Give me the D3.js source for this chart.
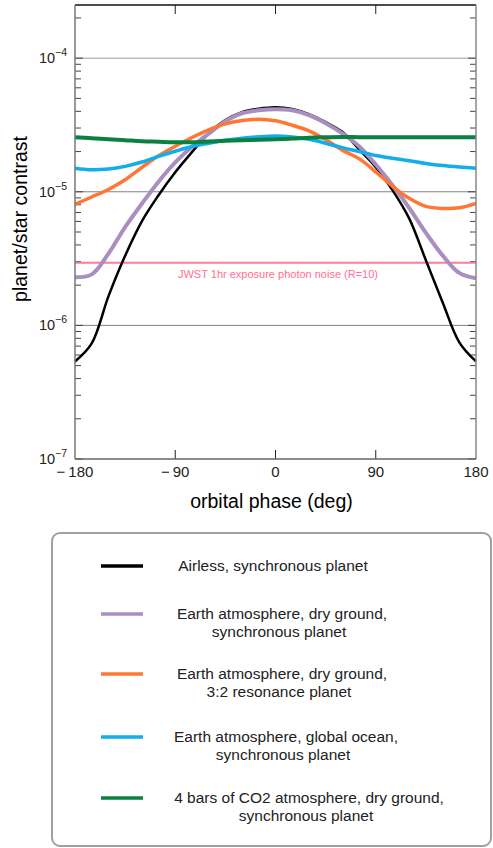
<!DOCTYPE html>
<html>
<head>
<meta charset="utf-8">
<script src="https://cdn.jsdelivr.net/npm/d3@7"></script>
<style>
  body { margin: 0; background: #fff; }
  svg { display: block; font-family: "Liberation Sans", Arial, sans-serif; }
</style>
</head>
<body>
<svg id="chart" width="493" height="848"></svg>
<script>
// orbital phase samples (deg)
const phases = [-180, -165, -150, -135, -120, -105, -90, -75, -60, -45, -30, -15, 0,
  15, 30, 45, 60, 75, 90, 105, 120, 135, 150, 165, 180];

const airless = [5.37e-7, 7.33e-7, 1.65e-6, 3.32e-6, 6.01e-6, 9.42e-6, 1.40e-5, 1.98e-5, 2.74e-5, 3.44e-5, 3.94e-5, 4.19e-5, 4.30e-5,
  4.17e-5, 3.81e-5, 3.32e-5, 2.81e-5, 2.08e-5, 1.53e-5, 1.03e-5, 6.32e-6, 3.07e-6, 1.49e-6, 7.47e-7, 5.37e-7];
const earthDry = [2.29e-6, 2.41e-6, 3.44e-6, 5.44e-6, 8.13e-6, 1.19e-5, 1.66e-5, 2.17e-5, 2.72e-5, 3.37e-5, 3.87e-5, 4.07e-5, 4.15e-5,
  4.07e-5, 3.74e-5, 3.26e-5, 2.74e-5, 2.19e-5, 1.60e-5, 1.12e-5, 7.59e-6, 4.93e-6, 3.34e-6, 2.47e-6, 2.25e-6];
const earthDry32 = [8.05e-6, 9.14e-6, 1.04e-5, 1.23e-5, 1.52e-5, 1.86e-5, 2.19e-5, 2.55e-5, 2.91e-5, 3.22e-5, 3.41e-5, 3.49e-5, 3.40e-5,
  3.15e-5, 2.86e-5, 2.46e-5, 2.05e-5, 1.77e-5, 1.41e-5, 1.10e-5, 8.93e-6, 7.78e-6, 7.51e-6, 7.59e-6, 8.20e-6];
const earthOcean = [1.50e-5, 1.46e-5, 1.48e-5, 1.55e-5, 1.67e-5, 1.84e-5, 2.01e-5, 2.18e-5, 2.31e-5, 2.43e-5, 2.52e-5, 2.58e-5, 2.61e-5,
  2.57e-5, 2.47e-5, 2.31e-5, 2.14e-5, 2.00e-5, 1.87e-5, 1.78e-5, 1.71e-5, 1.63e-5, 1.57e-5, 1.53e-5, 1.50e-5];
const co2Dry = [2.56e-5, 2.52e-5, 2.47e-5, 2.43e-5, 2.39e-5, 2.37e-5, 2.35e-5, 2.35e-5, 2.38e-5, 2.41e-5, 2.43e-5, 2.45e-5, 2.47e-5,
  2.50e-5, 2.54e-5, 2.56e-5, 2.57e-5, 2.56e-5, 2.56e-5, 2.56e-5, 2.56e-5, 2.56e-5, 2.56e-5, 2.56e-5, 2.56e-5];

const noiseLevel = 2.94e-6;
const noiseLabel = "JWST 1hr exposure photon noise (R=10)";

const xTicks = [-180, -90, 0, 90, 180];
const yDecades = [-7, -6, -5, -4];

const seriesNames = [
  ["Airless, synchronous planet"],
  ["Earth atmosphere, dry ground,", "synchronous planet"],
  ["Earth atmosphere, dry ground,", "3:2 resonance planet"],
  ["Earth atmosphere, global ocean,", "synchronous planet"],
  ["4 bars of CO2 atmosphere, dry ground,", "synchronous planet"]
];
const seriesValues = [airless, earthDry, earthDry32, earthOcean, co2Dry];
const seriesColors = ["#000000", "#a88fc0", "#ff7733", "#12aeec", "#0b8043"];
const seriesWidths = [2.5, 4, 3.5, 3.5, 4];

const svg = d3.select("#chart");
const plotL = 75, plotR = 476, plotT = 5, plotB = 459;

const x = d3.scaleLinear().domain([-180, 180]).range([plotL, plotR]);
const y = d3.scaleLog().domain([1e-7, 2.5e-4]).range([plotB, plotT]);

const g = svg.append("g");

// decade gridlines
yDecades.forEach(e => {
  if (e === -7) return;
  g.append("line")
    .attr("x1", plotL).attr("x2", plotR)
    .attr("y1", y(Math.pow(10, e))).attr("y2", y(Math.pow(10, e)))
    .attr("stroke", e === -4 ? "#bbbbbb" : "#808080")
    .attr("stroke-width", e === -4 ? 1.5 : 1);
});

// minor y ticks, both sides
const minors = [];
for (let e = -7; e <= -4; e++) {
  for (let m = 1; m <= 9; m++) {
    const v = m * Math.pow(10, e);
    if (v <= 2.5e-4) minors.push({ v, major: m === 1 });
  }
}
minors.forEach(t => {
  const len = t.major ? 8 : 6;
  g.append("line").attr("x1", plotL).attr("x2", plotL + len)
    .attr("y1", y(t.v)).attr("y2", y(t.v)).attr("stroke", "#444").attr("stroke-width", 1);
  g.append("line").attr("x1", plotR - len).attr("x2", plotR)
    .attr("y1", y(t.v)).attr("y2", y(t.v)).attr("stroke", "#444").attr("stroke-width", 1);
});

// x ticks top and bottom
xTicks.slice(1, -1).forEach(t => {
  g.append("line").attr("x1", x(t)).attr("x2", x(t))
    .attr("y1", plotB).attr("y2", plotB - 9).attr("stroke", "#222");
  g.append("line").attr("x1", x(t)).attr("x2", x(t))
    .attr("y1", plotT).attr("y2", plotT + 9).attr("stroke", "#222");
});

// noise floor
g.append("line")
  .attr("x1", plotL).attr("x2", plotR)
  .attr("y1", y(noiseLevel)).attr("y2", y(noiseLevel))
  .attr("stroke", "#ff7a99").attr("stroke-width", 2);
g.append("text")
  .attr("x", 278).attr("y", y(noiseLevel) + 15)
  .attr("text-anchor", "middle")
  .attr("fill", "#ff6f92")
  .style("font-size", "11px")
  .text(noiseLabel);

// series
const line = d3.line()
  .x((d, i) => x(phases[i]))
  .y(d => y(d))
  .curve(d3.curveCatmullRom.alpha(0.5));

seriesValues.forEach((vals, i) => {
  g.append("path")
    .datum(vals)
    .attr("fill", "none")
    .attr("stroke", seriesColors[i])
    .attr("stroke-width", seriesWidths[i])
    .attr("stroke-linejoin", "round")
    .attr("d", line);
});

// frame
g.append("line").attr("x1", plotL).attr("x2", plotR).attr("y1", plotT).attr("y2", plotT).attr("stroke", "#111").attr("stroke-width", 1.5);
g.append("line").attr("x1", plotL).attr("x2", plotL).attr("y1", plotT).attr("y2", plotB).attr("stroke", "#777").attr("stroke-width", 1.5);
g.append("line").attr("x1", plotR).attr("x2", plotR).attr("y1", plotT).attr("y2", plotB).attr("stroke", "#888").attr("stroke-width", 1.5);
g.append("line").attr("x1", plotL).attr("x2", plotR).attr("y1", plotB).attr("y2", plotB).attr("stroke", "#666").attr("stroke-width", 1.5);

// y tick labels 10^e
yDecades.forEach(e => {
  const t = svg.append("text")
    .attr("x", 67).attr("y", y(Math.pow(10, e)) + 5)
    .attr("text-anchor", "end")
    .attr("fill", "#222")
    .style("font-size", "14.5px");
  t.append("tspan").text("10");
  t.append("tspan").attr("dy", -7).style("font-size", "10.5px").text("\u2212" + Math.abs(e));
});

// x tick labels
xTicks.forEach(t => {
  svg.append("text")
    .attr("x", x(t)).attr("y", 477)
    .attr("text-anchor", "middle")
    .attr("fill", "#222")
    .style("font-size", "15px")
    .text(t < 0 ? "\u2212\u2009" + Math.abs(t) : t);
});

// axis titles
svg.append("text")
  .attr("x", x(0) - 4).attr("y", 508)
  .attr("text-anchor", "middle")
  .style("font-size", "19.5px")
  .text("orbital phase (deg)");
svg.append("text")
  .attr("transform", "translate(27,219) rotate(-90)")
  .attr("text-anchor", "middle")
  .style("font-size", "19.5px")
  .text("planet/star contrast");

// legend
const legend = svg.append("g");
legend.append("rect")
  .attr("x", 52).attr("y", 533).attr("width", 439).attr("height", 313)
  .attr("rx", 8).attr("ry", 8)
  .attr("fill", "#fff").attr("stroke", "#a0a0a0").attr("stroke-width", 2);

const legendY = [566, 614, 674, 737, 798];
const legendTextX = [273, 282, 282, 286, 309];
seriesNames.forEach((lines, i) => {
  legend.append("line")
    .attr("x1", 101).attr("x2", 143)
    .attr("y1", legendY[i]).attr("y2", legendY[i])
    .attr("stroke", seriesColors[i]).attr("stroke-width", 3.5);
  lines.forEach((txt, j) => {
    legend.append("text")
      .attr("x", j === 0 ? legendTextX[i] : legendTextX[i] - 3)
      .attr("y", legendY[i] + 5 + j * 18)
      .attr("text-anchor", "middle")
      .attr("fill", "#222")
      .style("font-size", "15.5px")
      .text(txt);
  });
});
</script>
</body>
</html>
